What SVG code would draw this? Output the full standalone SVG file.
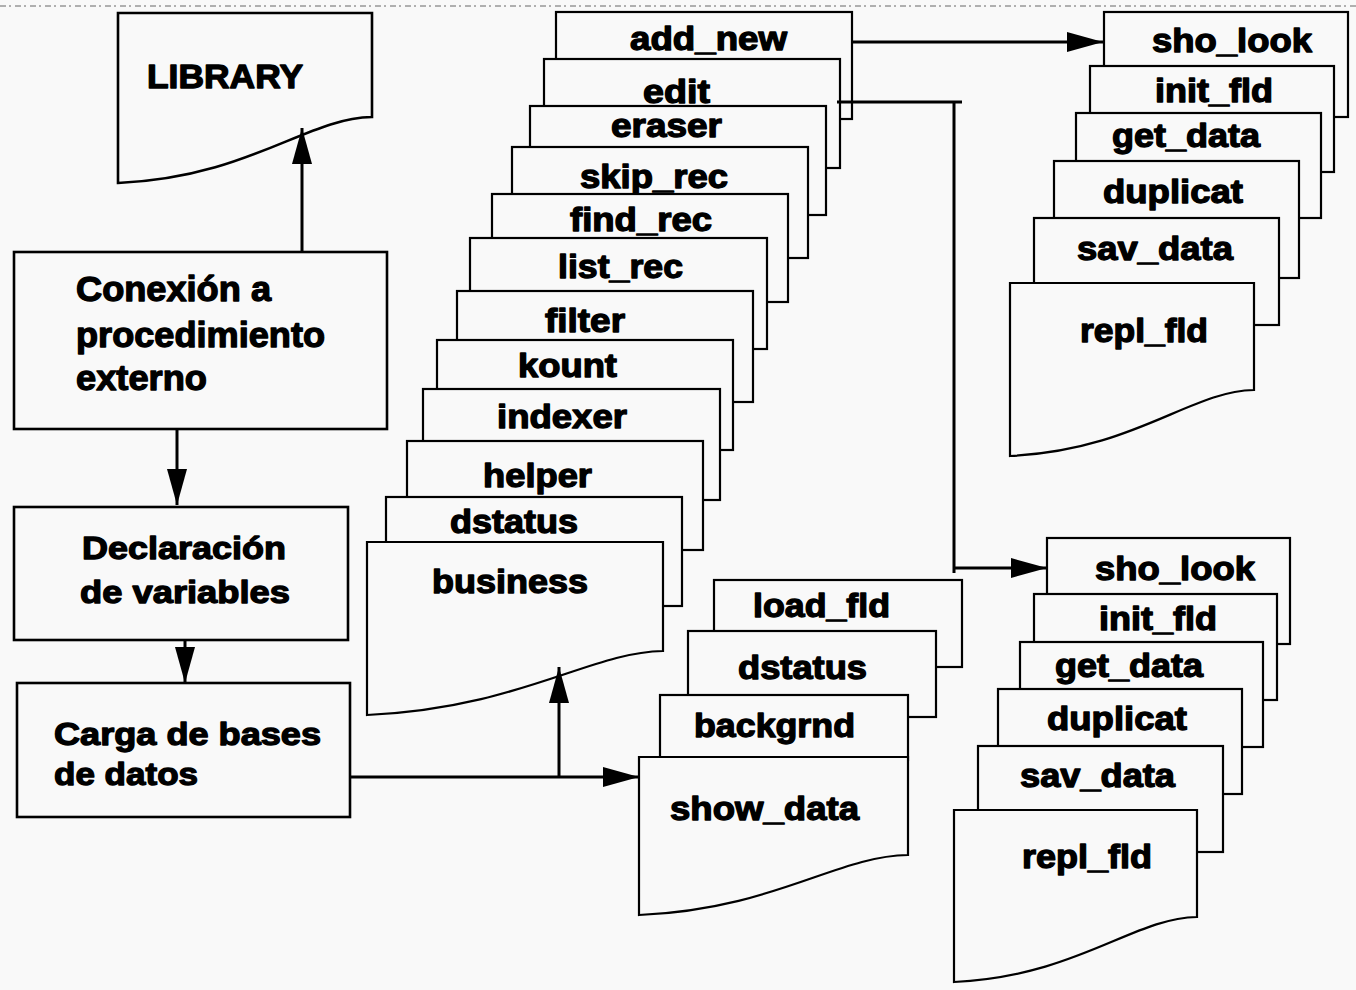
<svg xmlns="http://www.w3.org/2000/svg" width="1356" height="990" viewBox="0 0 1356 990">
<defs>
<style>
.bg{fill:#f9f9f9}
.box{fill:#f9f9f9;stroke:#000;stroke-width:2.6}
.tab{fill:#f9f9f9;stroke:#000;stroke-width:2.2}
.t{font-family:"Liberation Sans",Arial,sans-serif;font-weight:bold;fill:#000;stroke:#000;stroke-width:1.3;stroke-linejoin:round}
.f32{font-size:33px}
.f34{font-size:35px}
.f31{font-size:32px}
.con{fill:none;stroke:#000;stroke-width:3}
.scan{fill:none;stroke:#666;stroke-width:1;stroke-dasharray:6 3 2 4}
</style>
<marker id="ah" markerUnits="userSpaceOnUse" markerWidth="38" markerHeight="22" refX="36" refY="10" orient="auto">
<path d="M0,0 L36,10 L0,20 z" fill="#000"/>
</marker>
</defs>
<rect class="bg" x="0" y="0" width="1356" height="990"/>
<line class="scan" x1="0" y1="6" x2="1356" y2="6"/>

<g id="library">
<path class="box" d="M118,13 H372 V117 C306,118 250,177 118,183 Z"/>
<text class="t f32" x="147" y="88" textLength="156" lengthAdjust="spacingAndGlyphs">LIBRARY</text>
</g>

<g id="conexion">
<rect class="box" x="14" y="252" width="373" height="177"/>
<text class="t f34" x="76" y="301" textLength="195" lengthAdjust="spacingAndGlyphs">Conexión a</text>
<text class="t f34" x="76" y="347" textLength="249" lengthAdjust="spacingAndGlyphs">procedimiento</text>
<text class="t f34" x="76" y="390" textLength="131" lengthAdjust="spacingAndGlyphs">externo</text>
</g>

<g id="declaracion">
<rect class="box" x="14" y="507" width="334" height="133"/>
<text class="t f31" x="82" y="559" textLength="204" lengthAdjust="spacingAndGlyphs">Declaración</text>
<text class="t f31" x="80" y="603" textLength="210" lengthAdjust="spacingAndGlyphs">de variables</text>
</g>

<g id="carga">
<rect class="box" x="17" y="683" width="333" height="134"/>
<text class="t f31" x="54" y="745" textLength="267" lengthAdjust="spacingAndGlyphs">Carga de bases</text>
<text class="t f31" x="54" y="785" textLength="144" lengthAdjust="spacingAndGlyphs">de datos</text>
</g>

<g id="add_new"><rect class="tab" x="556" y="12" width="296" height="107"/><text class="t f32" x="630" y="50" textLength="157" lengthAdjust="spacingAndGlyphs">add_new</text></g>
<g id="edit"><rect class="tab" x="544" y="59" width="296" height="109"/><text class="t f32" x="643" y="103" textLength="67" lengthAdjust="spacingAndGlyphs">edit</text></g>
<g id="eraser"><rect class="tab" x="530" y="106" width="296" height="109"/><text class="t f32" x="611" y="137" textLength="111" lengthAdjust="spacingAndGlyphs">eraser</text></g>
<g id="skip_rec"><rect class="tab" x="512" y="147" width="296" height="111"/><text class="t f32" x="580" y="188" textLength="148" lengthAdjust="spacingAndGlyphs">skip_rec</text></g>
<g id="find_rec"><rect class="tab" x="492" y="194" width="296" height="108"/><text class="t f32" x="570" y="231" textLength="142" lengthAdjust="spacingAndGlyphs">find_rec</text></g>
<g id="list_rec"><rect class="tab" x="470" y="238" width="297" height="111"/><text class="t f32" x="558" y="278" textLength="125" lengthAdjust="spacingAndGlyphs">list_rec</text></g>
<g id="filter"><rect class="tab" x="457" y="291" width="296" height="111"/><text class="t f32" x="545" y="332" textLength="80" lengthAdjust="spacingAndGlyphs">filter</text></g>
<g id="kount"><rect class="tab" x="437" y="340" width="296" height="110"/><text class="t f32" x="518" y="377" textLength="99" lengthAdjust="spacingAndGlyphs">kount</text></g>
<g id="indexer"><rect class="tab" x="423" y="389" width="297" height="111"/><text class="t f32" x="497" y="428" textLength="130" lengthAdjust="spacingAndGlyphs">indexer</text></g>
<g id="helper"><rect class="tab" x="407" y="441" width="296" height="109"/><text class="t f32" x="483" y="487" textLength="109" lengthAdjust="spacingAndGlyphs">helper</text></g>
<g id="dstatus1"><rect class="tab" x="386" y="497" width="296" height="109"/><text class="t f32" x="450" y="533" textLength="128" lengthAdjust="spacingAndGlyphs">dstatus</text></g>
<g id="business"><path class="tab" d="M367,542 H663 V651 C590,652 520,708 367,715 Z"/><text class="t f32" x="432" y="593" textLength="156" lengthAdjust="spacingAndGlyphs">business</text></g>

<g id="sho_look1"><rect class="tab" x="1104" y="12" width="244" height="105"/><text class="t f32" x="1152" y="52" textLength="160" lengthAdjust="spacingAndGlyphs">sho_look</text></g>
<g id="init_fld1"><rect class="tab" x="1090" y="66" width="244" height="106"/><text class="t f32" x="1155" y="102" textLength="118" lengthAdjust="spacingAndGlyphs">init_fld</text></g>
<g id="get_data1"><rect class="tab" x="1076" y="113" width="245" height="105"/><text class="t f32" x="1112" y="147" textLength="148" lengthAdjust="spacingAndGlyphs">get_data</text></g>
<g id="duplicat1"><rect class="tab" x="1054" y="161" width="245" height="117"/><text class="t f32" x="1103" y="203" textLength="140" lengthAdjust="spacingAndGlyphs">duplicat</text></g>
<g id="sav_data1"><rect class="tab" x="1034" y="218" width="245" height="107"/><text class="t f32" x="1077" y="260" textLength="156" lengthAdjust="spacingAndGlyphs">sav_data</text></g>
<g id="repl_fld1"><path class="tab" d="M1010,283 H1254 V390 C1190,391 1135,450 1010,456 Z"/><text class="t f32" x="1080" y="342" textLength="128" lengthAdjust="spacingAndGlyphs">repl_fld</text></g>

<g id="sho_look2"><rect class="tab" x="1047" y="538" width="243" height="106"/><text class="t f32" x="1095" y="580" textLength="160" lengthAdjust="spacingAndGlyphs">sho_look</text></g>
<g id="init_fld2"><rect class="tab" x="1034" y="594" width="243" height="106"/><text class="t f32" x="1099" y="630" textLength="118" lengthAdjust="spacingAndGlyphs">init_fld</text></g>
<g id="get_data2"><rect class="tab" x="1020" y="642" width="243" height="105"/><text class="t f32" x="1055" y="677" textLength="148" lengthAdjust="spacingAndGlyphs">get_data</text></g>
<g id="duplicat2"><rect class="tab" x="998" y="689" width="244" height="105"/><text class="t f32" x="1047" y="730" textLength="140" lengthAdjust="spacingAndGlyphs">duplicat</text></g>
<g id="sav_data2"><rect class="tab" x="978" y="746" width="245" height="106"/><text class="t f32" x="1020" y="787" textLength="155" lengthAdjust="spacingAndGlyphs">sav_data</text></g>
<g id="repl_fld2"><path class="tab" d="M954,810 H1197 V917 C1133,918 1078,976 954,982 Z"/><text class="t f32" x="1022" y="868" textLength="130" lengthAdjust="spacingAndGlyphs">repl_fld</text></g>

<g id="load_fld"><rect class="tab" x="714" y="580" width="248" height="87"/><text class="t f32" x="753" y="617" textLength="137" lengthAdjust="spacingAndGlyphs">load_fld</text></g>
<g id="dstatus2"><rect class="tab" x="688" y="631" width="248" height="86"/><text class="t f32" x="738" y="679" textLength="129" lengthAdjust="spacingAndGlyphs">dstatus</text></g>
<g id="backgrnd"><rect class="tab" x="660" y="695" width="248" height="65"/><text class="t f32" x="694" y="737" textLength="161" lengthAdjust="spacingAndGlyphs">backgrnd</text></g>
<g id="show_data"><path class="tab" d="M639,757 H908 V855 C836,856 775,909 639,915 Z"/><text class="t f32" x="670" y="820" textLength="189" lengthAdjust="spacingAndGlyphs">show_data</text></g>

<g id="connectors">
<path class="con" d="M302,252 V128" marker-end="url(#ah)"/>
<path class="con" d="M177,429 V505" marker-end="url(#ah)"/>
<path class="con" d="M185,640 V683" marker-end="url(#ah)"/>
<path class="con" d="M350,777 H639" marker-end="url(#ah)"/>
<path class="con" d="M559,777 V667" marker-end="url(#ah)"/>
<path class="con" d="M852,42 H1103" marker-end="url(#ah)"/>
<path class="con" d="M837,102 H962"/>
<path class="con" d="M954,102 V573"/>
<path class="con" d="M954,568 H1047" marker-end="url(#ah)"/>
</g>
</svg>
